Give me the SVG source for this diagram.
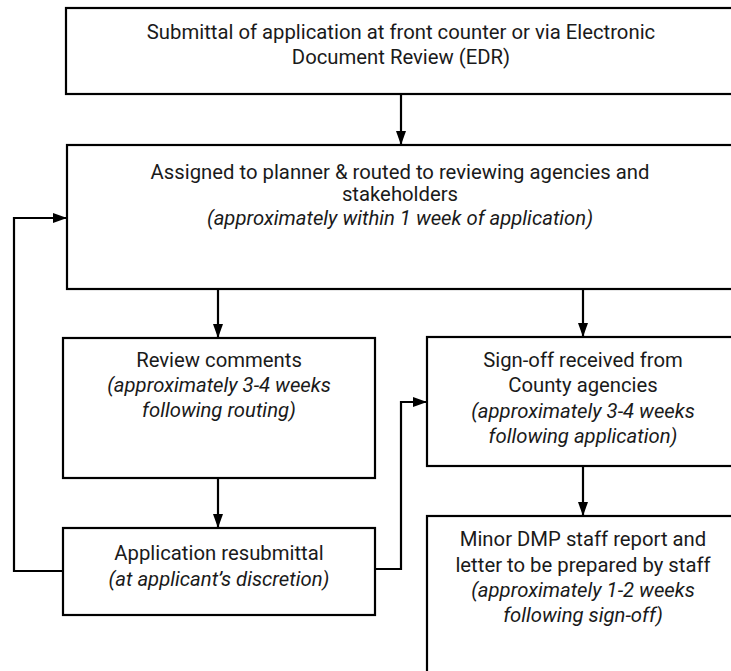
<svg xmlns="http://www.w3.org/2000/svg" width="731" height="671" viewBox="0 0 731 671">
<style>
.box{fill:#fff;stroke:#000;stroke-width:2.2}
text{font-family:Roboto,"Liberation Sans",sans-serif;font-size:20.3px;fill:#1a1a1a;text-anchor:middle}
.i{font-style:italic}
.c{fill:none;stroke:#000;stroke-width:2.2}
</style>
<defs>
<marker id="ah" markerWidth="14" markerHeight="10" refX="13" refY="5" orient="auto" markerUnits="userSpaceOnUse" viewBox="0 0 14 10">
<path d="M0,0 L14,5 L0,10 z" fill="#000"/>
</marker>
</defs>
<rect width="731" height="671" fill="#fff"/>
<g id="n1">
<rect class="box" x="66" y="8" width="680" height="86"/>
<text x="401" y="39">Submittal of application at front counter or via Electronic</text>
<text x="401" y="64">Document Review (EDR)</text>
</g>
<g id="n2">
<rect class="box" x="67" y="145" width="680" height="144"/>
<text x="400" y="179">Assigned to planner &amp; routed to reviewing agencies and</text>
<text x="400" y="201">stakeholders</text>
<text class="i" x="400" y="225">(approximately within 1 week of application)</text>
</g>
<g id="n3">
<rect class="box" x="63" y="338" width="312" height="140"/>
<text x="219" y="367">Review comments</text>
<text class="i" x="219" y="392">(approximately 3-4 weeks</text>
<text class="i" x="219" y="417">following routing)</text>
</g>
<g id="n4">
<rect class="box" x="427" y="337" width="320" height="129"/>
<text x="583" y="367">Sign-off received from</text>
<text x="583" y="392">County agencies</text>
<text class="i" x="583" y="418">(approximately 3-4 weeks</text>
<text class="i" x="583" y="443">following application)</text>
</g>
<g id="n5">
<rect class="box" x="63" y="528" width="312" height="87"/>
<text x="219" y="560">Application resubmittal</text>
<text class="i" x="219" y="586">(at applicant’s discretion)</text>
</g>
<g id="n6">
<rect class="box" x="427" y="516" width="320" height="170"/>
<text x="583" y="546">Minor DMP staff report and</text>
<text x="583" y="572">letter to be prepared by staff</text>
<text class="i" x="583" y="597">(approximately 1-2 weeks</text>
<text class="i" x="583" y="622">following sign-off)</text>
</g>
<g id="connectors">
<path class="c" d="M401,94 V144" marker-end="url(#ah)"/>
<path class="c" d="M218,289 V337" marker-end="url(#ah)"/>
<path class="c" d="M583,289 V336" marker-end="url(#ah)"/>
<path class="c" d="M218,478 V527" marker-end="url(#ah)"/>
<path class="c" d="M583,466 V515" marker-end="url(#ah)"/>
<path class="c" d="M63,571 H14 V218 H66" marker-end="url(#ah)"/>
<path class="c" d="M375,569 H401 V402 H426" marker-end="url(#ah)"/>
</g>
</svg>
